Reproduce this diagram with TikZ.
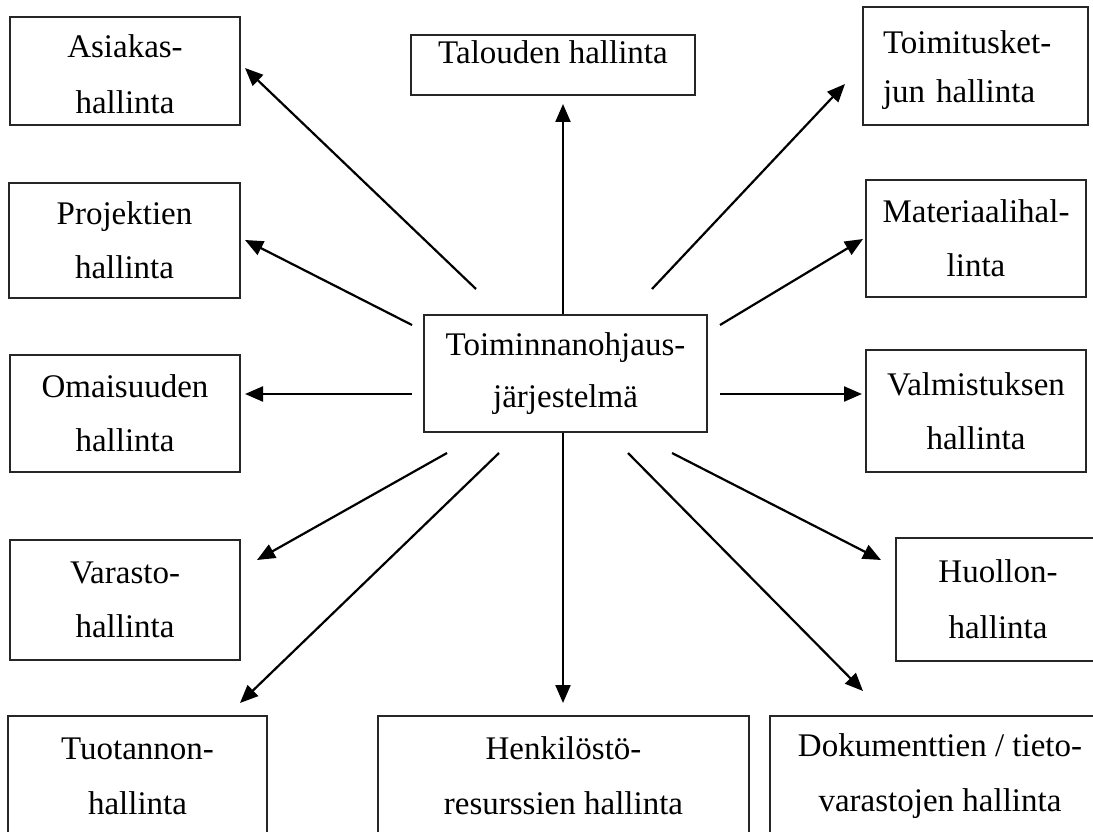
\documentclass[tikz,border=0pt]{standalone}
\usepackage{fontspec}
\setmainfont{Liberation Serif}
\usetikzlibrary{arrows.meta}
\begin{document}
\begin{tikzpicture}[x=1pt,y=-1pt,
  box/.style={draw=black!85, line width=1.6pt, rectangle, inner sep=0pt, align=center,
    font=\fontsize{33}{54}\selectfont},
  arr/.style={line width=2.2pt, -{Triangle[length=18pt,width=15pt]}}]
\useasboundingbox (0,0) rectangle (1093,832);
\clip (0,0) rectangle (1093,832);

% boxes
\node[box, minimum width=230pt, minimum height=108pt, font=\fontsize{33}{56}\selectfont] (asiakas) at (125,71) {\rule{0pt}{29pt}Asiakas-\\hallinta};
\node[box, minimum width=284pt, minimum height=60pt, text height=29pt, text depth=31pt] (talous) at (553,65) {Talouden hallinta};
\node[box, minimum height=118pt, text width=185pt, inner xsep=20pt, align=left,
  font=\fontsize{33}{49}\selectfont] (toimitus) at (975.5,66) {\rule{0pt}{31pt}Toimitusket-\\jun hallinta};
\node[box, minimum width=231pt, minimum height=115pt] (projekti) at (124.5,240.5) {Projektien\\hallinta};
\node[box, minimum width=220pt, minimum height=117pt] (materiaali) at (976,238.5) {Materiaalihal-\\linta};
\node[box, minimum width=283pt, minimum height=117pt, font=\fontsize{33}{52}\selectfont] (erp) at (565.5,373.5) {Toiminnanohjaus-\\järjestelmä};
\node[box, minimum width=230pt, minimum height=117pt] (omaisuus) at (125,413.5) {Omaisuuden\\hallinta};
\node[box, minimum width=220pt, minimum height=122pt] (valmistus) at (976,411) {Valmistuksen\\hallinta};
\node[box, minimum width=230pt, minimum height=120pt] (varasto) at (125,600) {Varasto-\\hallinta};
\node[box, minimum width=204pt, minimum height=123pt, font=\fontsize{33}{56}\selectfont] (huolto) at (998,599.5) {Huollon-\\hallinta};
\node[box, minimum width=259pt, minimum height=120pt, font=\fontsize{33}{55}\selectfont] (tuotanto) at (137.5,776) {Tuotannon-\\hallinta};
\node[box, minimum width=371pt, minimum height=120pt, font=\fontsize{33}{55}\selectfont] (henkilosto) at (563.5,776) {Henkilöstö-\\resurssien hallinta};
\node[box, minimum width=340pt, minimum height=120pt, font=\fontsize{33}{55}\selectfont] (dokumentti) at (940,776) {Dokumenttien / tieto-\\varastojen hallinta};

% arrow end points
\coordinate (tTal) at (563,104);
\coordinate (sAs) at (476,289);  \coordinate (tAs) at (245,68);
\coordinate (sTo) at (652,289);  \coordinate (tTo) at (845,84);
\coordinate (sPr) at (412,325);  \coordinate (tPr) at (245,240);
\coordinate (sMa) at (720,325);  \coordinate (tMa) at (863,239);
\coordinate (sOm) at (412,394);  \coordinate (tOm) at (245,394);
\coordinate (sVa) at (720,394);  \coordinate (tVa) at (862,394);
\coordinate (sVr) at (447,453);  \coordinate (tVr) at (257,560);
\coordinate (sTu) at (499,453);  \coordinate (tTu) at (240,703);
\coordinate (tHe) at (563,703);
\coordinate (sDo) at (628,453);  \coordinate (tDo) at (863,691);
\coordinate (sHu) at (672,453);  \coordinate (tHu) at (881,560);

% arrows
\draw[arr] (erp.north -| tTal) -- (tTal);
\draw[arr] (sAs) -- (tAs);
\draw[arr] (sTo) -- (tTo);
\draw[arr] (sPr) -- (tPr);
\draw[arr] (sMa) -- (tMa);
\draw[arr] (sOm) -- (tOm);
\draw[arr] (sVa) -- (tVa);
\draw[arr] (sVr) -- (tVr);
\draw[arr] (sTu) -- (tTu);
\draw[arr] (erp.south -| tHe) -- (tHe);
\draw[arr] (sDo) -- (tDo);
\draw[arr] (sHu) -- (tHu);
\end{tikzpicture}
\end{document}
